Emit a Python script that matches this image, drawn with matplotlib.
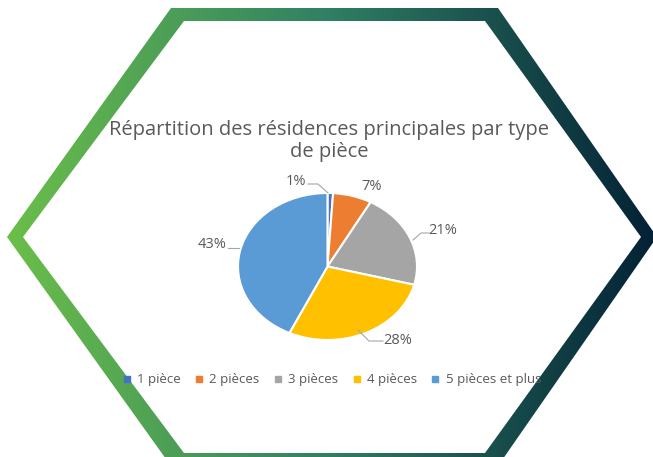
import numpy as np
import matplotlib
matplotlib.use("Agg")
import matplotlib.pyplot as plt
from matplotlib.path import Path
from matplotlib.patches import PathPatch
from matplotlib.lines import Line2D

plt.rcParams["font.family"] = ["Open Sans", "DejaVu Sans"]

# data
categories = ["1 pièce", "2 pièces", "3 pièces", "4 pièces", "5 pièces et plus"]
shares = [1, 7, 21, 28, 43]
colors = ["#4472C4", "#ED7D31", "#A5A5A5", "#FFC000", "#5B9BD5"]
title = "Répartition des résidences principales par type\nde pièce"

W, H = 653, 457
TXT = "#595959"

fig = plt.figure(figsize=(W / 100, H / 100), dpi=100)
fig.patch.set_facecolor("white")

# hexagon frame with a left-to-right green gradient
bg = fig.add_axes([0, 0, 1, 1])
bg.set_xlim(0, W)
bg.set_ylim(H, 0)
bg.axis("off")
left_rgb = np.array([108, 192, 72]) / 255
mid_rgb = np.array([48, 128, 100]) / 255
right_rgb = np.array([4, 34, 54]) / 255
xs = np.linspace(0, 1, 400)
grad = np.where(xs[:, None] < 0.5,
                left_rgb + (mid_rgb - left_rgb) * (xs[:, None] / 0.5),
                mid_rgb + (right_rgb - mid_rgb) * ((xs[:, None] - 0.5) / 0.5))
img = bg.imshow(grad[None, :, :], extent=(0, W, H, 0), aspect="auto", zorder=1)
outer = [(171, 8), (498, 8), (657, 237), (498, 466), (171, 466), (7, 237)]
inner = [(184, 21), (485, 21), (641, 237), (485, 453), (184, 453), (23, 237)]
verts = outer + [outer[0]] + inner[::-1] + [inner[-1]]
codes = ([Path.MOVETO] + [Path.LINETO] * 5 + [Path.CLOSEPOLY]) * 2
ring = PathPatch(Path(verts, codes), transform=bg.transData, facecolor="none", edgecolor="none")
img.set_clip_path(ring)

fig.text(329 / W, 1 - 141 / H, title, ha="center", va="center", fontsize=14.5,
         color=TXT, linespacing=1.2)

# pie (slightly squashed, as in the reference)
ax = fig.add_axes([238 / W, 1 - 340 / H, 179 / W, 147 / H])
wedges, _ = ax.pie(shares, colors=colors, startangle=90, counterclock=False,
                   wedgeprops=dict(edgecolor="white", linewidth=1.5))
ax.set_aspect("auto")
ax.set_xlim(-1, 1)
ax.set_ylim(-1, 1)
ax.axis("off")


def to_data(px, py):
    return (px - 327.5) / 89.5, (266.5 - py) / 73.5


label_pos = [(296, 181), (372, 186), (443, 231), (398, 340), (212, 244)]
leaders = [
    [(308, 184), (318, 184), (328, 193)],
    None,
    [(429, 233), (421, 233), (413, 240)],
    [(383, 341), (369, 341), (358, 330)],
    [(228, 248), (239, 248)],
]
for val, (px, py), lead in zip(shares, label_pos, leaders):
    x, y = to_data(px, py)
    ax.text(x, y, f"{val}%", ha="center", va="center", fontsize=10.5, color=TXT, clip_on=False)
    if lead:
        lx, ly = zip(*[to_data(a, b) for a, b in lead])
        ax.plot(lx, ly, color="#A6A6A6", lw=0.8, clip_on=False)

handles = [Line2D([], [], ls="none", marker="s", markersize=4.5, color=c) for c in colors]
fig.legend(handles, categories, loc="center", bbox_to_anchor=(332 / W, 1 - 380 / H),
           ncol=5, frameon=False, fontsize=9.5, labelcolor=TXT,
           handlelength=0.6, handletextpad=0.5, columnspacing=1.07)

fig.savefig("out.png", dpi=100, facecolor="white")
